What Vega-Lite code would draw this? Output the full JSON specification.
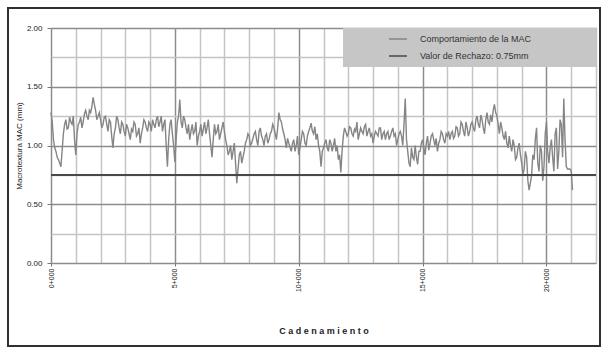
{
  "$schema": "https://vega.github.io/schema/vega-lite/v6.json",
  "width": 592,
  "height": 338,
  "autosize": {"type": "none"},
  "padding": {"left": 8, "top": 8, "right": 4, "bottom": 2},
  "background": "white",
  "config": {
    "font": "Liberation Sans",
    "view": {"stroke": "#303030", "strokeWidth": 2}
  },
  "data": {
    "values": [
      {"d": 0, "mac": 1.28}, {"d": 50, "mac": 1.2}, {"d": 100, "mac": 1.05}, {"d": 150, "mac": 0.98}, {"d": 200, "mac": 0.95}, {"d": 250, "mac": 0.9},
      {"d": 300, "mac": 0.88}, {"d": 350, "mac": 0.85}, {"d": 400, "mac": 0.82}, {"d": 450, "mac": 0.96}, {"d": 500, "mac": 1.1}, {"d": 550, "mac": 1.18},
      {"d": 600, "mac": 1.22}, {"d": 650, "mac": 1.14}, {"d": 700, "mac": 1.15}, {"d": 750, "mac": 1.24}, {"d": 800, "mac": 1.2}, {"d": 850, "mac": 1.18},
      {"d": 900, "mac": 1.25}, {"d": 950, "mac": 1.05},
      {"d": 1000, "mac": 0.92}, {"d": 1050, "mac": 1.1}, {"d": 1100, "mac": 1.18}, {"d": 1150, "mac": 1.2}, {"d": 1200, "mac": 1.24}, {"d": 1250, "mac": 1.15},
      {"d": 1300, "mac": 1.2}, {"d": 1350, "mac": 1.27}, {"d": 1400, "mac": 1.3}, {"d": 1450, "mac": 1.25}, {"d": 1500, "mac": 1.22}, {"d": 1550, "mac": 1.3},
      {"d": 1600, "mac": 1.28}, {"d": 1650, "mac": 1.33}, {"d": 1700, "mac": 1.41}, {"d": 1750, "mac": 1.35}, {"d": 1800, "mac": 1.3}, {"d": 1850, "mac": 1.22},
      {"d": 1900, "mac": 1.25}, {"d": 1950, "mac": 1.28},
      {"d": 2000, "mac": 1.22}, {"d": 2050, "mac": 1.15}, {"d": 2100, "mac": 1.18}, {"d": 2150, "mac": 1.24}, {"d": 2200, "mac": 1.25}, {"d": 2250, "mac": 1.18},
      {"d": 2300, "mac": 1.12}, {"d": 2350, "mac": 1.22}, {"d": 2400, "mac": 1.2}, {"d": 2450, "mac": 1.08}, {"d": 2500, "mac": 0.98}, {"d": 2550, "mac": 1.1},
      {"d": 2600, "mac": 1.15}, {"d": 2650, "mac": 1.25}, {"d": 2700, "mac": 1.22}, {"d": 2750, "mac": 1.15}, {"d": 2800, "mac": 1.1}, {"d": 2850, "mac": 1.2},
      {"d": 2900, "mac": 1.18}, {"d": 2950, "mac": 1.12},
      {"d": 3000, "mac": 1.08}, {"d": 3050, "mac": 1.18}, {"d": 3100, "mac": 1.15}, {"d": 3150, "mac": 1.1}, {"d": 3200, "mac": 1.05}, {"d": 3250, "mac": 1.14},
      {"d": 3300, "mac": 1.12}, {"d": 3350, "mac": 1.2}, {"d": 3400, "mac": 1.18}, {"d": 3450, "mac": 1.08}, {"d": 3500, "mac": 1.1}, {"d": 3550, "mac": 1.15},
      {"d": 3600, "mac": 1.02}, {"d": 3650, "mac": 1.1}, {"d": 3700, "mac": 1.15}, {"d": 3750, "mac": 1.22}, {"d": 3800, "mac": 1.2}, {"d": 3850, "mac": 1.15},
      {"d": 3900, "mac": 1.12}, {"d": 3950, "mac": 1.2},
      {"d": 4000, "mac": 1.18}, {"d": 4050, "mac": 1.12}, {"d": 4100, "mac": 1.22}, {"d": 4150, "mac": 1.18}, {"d": 4200, "mac": 1.15}, {"d": 4250, "mac": 1.22},
      {"d": 4300, "mac": 1.25}, {"d": 4350, "mac": 1.16}, {"d": 4400, "mac": 1.2}, {"d": 4450, "mac": 1.25}, {"d": 4500, "mac": 1.12}, {"d": 4550, "mac": 1.18},
      {"d": 4600, "mac": 1.22}, {"d": 4650, "mac": 1.0}, {"d": 4700, "mac": 0.82}, {"d": 4750, "mac": 1.05}, {"d": 4800, "mac": 1.18}, {"d": 4850, "mac": 1.22},
      {"d": 4900, "mac": 1.1}, {"d": 4950, "mac": 1.0},
      {"d": 5000, "mac": 0.86}, {"d": 5050, "mac": 1.05}, {"d": 5100, "mac": 1.2}, {"d": 5150, "mac": 1.25}, {"d": 5200, "mac": 1.39}, {"d": 5250, "mac": 1.2},
      {"d": 5300, "mac": 1.15}, {"d": 5350, "mac": 1.25}, {"d": 5400, "mac": 1.22}, {"d": 5450, "mac": 1.15}, {"d": 5500, "mac": 1.1}, {"d": 5550, "mac": 1.18},
      {"d": 5600, "mac": 1.05}, {"d": 5650, "mac": 1.12}, {"d": 5700, "mac": 1.18}, {"d": 5750, "mac": 1.1}, {"d": 5800, "mac": 1.12}, {"d": 5850, "mac": 1.2},
      {"d": 5900, "mac": 1.0}, {"d": 5950, "mac": 1.08},
      {"d": 6000, "mac": 1.12}, {"d": 6050, "mac": 1.18}, {"d": 6100, "mac": 1.08}, {"d": 6150, "mac": 1.14}, {"d": 6200, "mac": 1.2}, {"d": 6250, "mac": 1.1},
      {"d": 6300, "mac": 1.15}, {"d": 6350, "mac": 1.22}, {"d": 6400, "mac": 1.1}, {"d": 6450, "mac": 1.0}, {"d": 6500, "mac": 0.9}, {"d": 6550, "mac": 1.05},
      {"d": 6600, "mac": 1.18}, {"d": 6650, "mac": 1.1}, {"d": 6700, "mac": 1.12}, {"d": 6750, "mac": 1.18}, {"d": 6800, "mac": 1.05}, {"d": 6850, "mac": 1.1},
      {"d": 6900, "mac": 1.15}, {"d": 6950, "mac": 1.2},
      {"d": 7000, "mac": 1.12}, {"d": 7050, "mac": 1.05}, {"d": 7100, "mac": 1.0}, {"d": 7150, "mac": 0.92}, {"d": 7200, "mac": 0.95}, {"d": 7250, "mac": 1.0},
      {"d": 7300, "mac": 0.88}, {"d": 7350, "mac": 0.95}, {"d": 7400, "mac": 1.02}, {"d": 7450, "mac": 0.85}, {"d": 7500, "mac": 0.68}, {"d": 7550, "mac": 0.8},
      {"d": 7600, "mac": 0.92}, {"d": 7650, "mac": 0.95}, {"d": 7700, "mac": 0.85}, {"d": 7750, "mac": 0.9}, {"d": 7800, "mac": 0.95}, {"d": 7850, "mac": 1.02},
      {"d": 7900, "mac": 1.05}, {"d": 7950, "mac": 1.1},
      {"d": 8000, "mac": 1.08}, {"d": 8050, "mac": 1.0}, {"d": 8100, "mac": 1.02}, {"d": 8150, "mac": 1.06}, {"d": 8200, "mac": 1.1}, {"d": 8250, "mac": 1.12},
      {"d": 8300, "mac": 1.05}, {"d": 8350, "mac": 1.0}, {"d": 8400, "mac": 1.12}, {"d": 8450, "mac": 1.15}, {"d": 8500, "mac": 1.08}, {"d": 8550, "mac": 1.05},
      {"d": 8600, "mac": 1.0}, {"d": 8650, "mac": 1.08}, {"d": 8700, "mac": 1.1}, {"d": 8750, "mac": 1.02}, {"d": 8800, "mac": 1.05}, {"d": 8850, "mac": 1.1},
      {"d": 8900, "mac": 1.12}, {"d": 8950, "mac": 1.18},
      {"d": 9000, "mac": 1.15}, {"d": 9050, "mac": 1.1}, {"d": 9100, "mac": 1.05}, {"d": 9150, "mac": 1.15}, {"d": 9200, "mac": 1.28}, {"d": 9250, "mac": 1.22},
      {"d": 9300, "mac": 1.2}, {"d": 9350, "mac": 1.14}, {"d": 9400, "mac": 1.1}, {"d": 9450, "mac": 1.05}, {"d": 9500, "mac": 0.98}, {"d": 9550, "mac": 1.06},
      {"d": 9600, "mac": 1.02}, {"d": 9650, "mac": 0.98}, {"d": 9700, "mac": 0.95}, {"d": 9750, "mac": 1.02}, {"d": 9800, "mac": 1.05}, {"d": 9850, "mac": 0.95},
      {"d": 9900, "mac": 1.0}, {"d": 9950, "mac": 1.08},
      {"d": 10000, "mac": 0.92}, {"d": 10050, "mac": 0.98}, {"d": 10100, "mac": 1.05}, {"d": 10150, "mac": 1.12}, {"d": 10200, "mac": 1.1}, {"d": 10250, "mac": 1.02},
      {"d": 10300, "mac": 1.0}, {"d": 10350, "mac": 1.08}, {"d": 10400, "mac": 1.12}, {"d": 10450, "mac": 1.15}, {"d": 10500, "mac": 1.19}, {"d": 10550, "mac": 1.12},
      {"d": 10600, "mac": 1.1}, {"d": 10650, "mac": 1.16}, {"d": 10700, "mac": 1.05}, {"d": 10750, "mac": 1.1}, {"d": 10800, "mac": 1.0}, {"d": 10850, "mac": 0.95},
      {"d": 10900, "mac": 0.82}, {"d": 10950, "mac": 0.95},
      {"d": 11000, "mac": 0.98}, {"d": 11050, "mac": 1.02}, {"d": 11100, "mac": 1.05}, {"d": 11150, "mac": 0.98}, {"d": 11200, "mac": 0.95}, {"d": 11250, "mac": 1.05},
      {"d": 11300, "mac": 1.02}, {"d": 11350, "mac": 0.95}, {"d": 11400, "mac": 1.0}, {"d": 11450, "mac": 1.06}, {"d": 11500, "mac": 0.95}, {"d": 11550, "mac": 1.0},
      {"d": 11600, "mac": 0.88}, {"d": 11650, "mac": 0.92}, {"d": 11700, "mac": 0.77}, {"d": 11750, "mac": 0.95}, {"d": 11800, "mac": 1.08}, {"d": 11850, "mac": 1.15},
      {"d": 11900, "mac": 1.12}, {"d": 11950, "mac": 1.08},
      {"d": 12000, "mac": 1.1}, {"d": 12050, "mac": 1.16}, {"d": 12100, "mac": 1.15}, {"d": 12150, "mac": 1.1}, {"d": 12200, "mac": 1.08}, {"d": 12250, "mac": 1.14},
      {"d": 12300, "mac": 1.12}, {"d": 12350, "mac": 1.2}, {"d": 12400, "mac": 1.05}, {"d": 12450, "mac": 1.1}, {"d": 12500, "mac": 1.15}, {"d": 12550, "mac": 1.12},
      {"d": 12600, "mac": 1.1}, {"d": 12650, "mac": 1.16}, {"d": 12700, "mac": 1.18}, {"d": 12750, "mac": 1.08}, {"d": 12800, "mac": 1.12}, {"d": 12850, "mac": 1.15},
      {"d": 12900, "mac": 1.08}, {"d": 12950, "mac": 1.1},
      {"d": 13000, "mac": 1.02}, {"d": 13050, "mac": 1.08}, {"d": 13100, "mac": 1.12}, {"d": 13150, "mac": 1.1}, {"d": 13200, "mac": 1.08}, {"d": 13250, "mac": 1.15},
      {"d": 13300, "mac": 1.15}, {"d": 13350, "mac": 1.05}, {"d": 13400, "mac": 1.1}, {"d": 13450, "mac": 1.12}, {"d": 13500, "mac": 1.05}, {"d": 13550, "mac": 1.1},
      {"d": 13600, "mac": 1.12}, {"d": 13650, "mac": 1.05}, {"d": 13700, "mac": 1.08}, {"d": 13750, "mac": 1.12}, {"d": 13800, "mac": 1.15}, {"d": 13850, "mac": 1.08},
      {"d": 13900, "mac": 1.1}, {"d": 13950, "mac": 1.0},
      {"d": 14000, "mac": 1.05}, {"d": 14050, "mac": 1.1}, {"d": 14100, "mac": 1.12}, {"d": 14150, "mac": 1.08}, {"d": 14200, "mac": 1.0}, {"d": 14250, "mac": 1.18},
      {"d": 14300, "mac": 1.4}, {"d": 14350, "mac": 1.05}, {"d": 14400, "mac": 0.95}, {"d": 14450, "mac": 0.85}, {"d": 14500, "mac": 0.82}, {"d": 14550, "mac": 0.98},
      {"d": 14600, "mac": 0.9}, {"d": 14650, "mac": 0.88}, {"d": 14700, "mac": 1.0}, {"d": 14750, "mac": 0.9}, {"d": 14800, "mac": 0.84}, {"d": 14850, "mac": 0.95},
      {"d": 14900, "mac": 0.95}, {"d": 14950, "mac": 1.02},
      {"d": 15000, "mac": 1.05}, {"d": 15050, "mac": 0.98}, {"d": 15100, "mac": 0.92}, {"d": 15150, "mac": 1.02}, {"d": 15200, "mac": 1.08}, {"d": 15250, "mac": 0.96},
      {"d": 15300, "mac": 1.02}, {"d": 15350, "mac": 1.08}, {"d": 15400, "mac": 1.1}, {"d": 15450, "mac": 1.05}, {"d": 15500, "mac": 1.0}, {"d": 15550, "mac": 1.06},
      {"d": 15600, "mac": 0.95}, {"d": 15650, "mac": 1.02}, {"d": 15700, "mac": 1.05}, {"d": 15750, "mac": 1.12}, {"d": 15800, "mac": 1.1}, {"d": 15850, "mac": 1.05},
      {"d": 15900, "mac": 1.02}, {"d": 15950, "mac": 1.1},
      {"d": 16000, "mac": 1.08}, {"d": 16050, "mac": 1.12}, {"d": 16100, "mac": 1.05}, {"d": 16150, "mac": 1.1}, {"d": 16200, "mac": 1.12}, {"d": 16250, "mac": 1.06},
      {"d": 16300, "mac": 1.08}, {"d": 16350, "mac": 1.16}, {"d": 16400, "mac": 1.15}, {"d": 16450, "mac": 1.08}, {"d": 16500, "mac": 1.1}, {"d": 16550, "mac": 1.2},
      {"d": 16600, "mac": 1.18}, {"d": 16650, "mac": 1.12}, {"d": 16700, "mac": 1.08}, {"d": 16750, "mac": 1.2}, {"d": 16800, "mac": 1.15}, {"d": 16850, "mac": 1.08},
      {"d": 16900, "mac": 1.12}, {"d": 16950, "mac": 1.18},
      {"d": 17000, "mac": 1.2}, {"d": 17050, "mac": 1.15}, {"d": 17100, "mac": 1.12}, {"d": 17150, "mac": 1.22}, {"d": 17200, "mac": 1.25}, {"d": 17250, "mac": 1.18},
      {"d": 17300, "mac": 1.15}, {"d": 17350, "mac": 1.26}, {"d": 17400, "mac": 1.22}, {"d": 17450, "mac": 1.15}, {"d": 17500, "mac": 1.1}, {"d": 17550, "mac": 1.22},
      {"d": 17600, "mac": 1.28}, {"d": 17650, "mac": 1.2}, {"d": 17700, "mac": 1.18}, {"d": 17750, "mac": 1.26}, {"d": 17800, "mac": 1.2}, {"d": 17850, "mac": 1.3},
      {"d": 17900, "mac": 1.35}, {"d": 17950, "mac": 1.28},
      {"d": 18000, "mac": 1.25}, {"d": 18050, "mac": 1.18}, {"d": 18100, "mac": 1.1}, {"d": 18150, "mac": 1.2}, {"d": 18200, "mac": 1.15}, {"d": 18250, "mac": 1.08},
      {"d": 18300, "mac": 1.05}, {"d": 18350, "mac": 1.12}, {"d": 18400, "mac": 1.02}, {"d": 18450, "mac": 0.98}, {"d": 18500, "mac": 1.08}, {"d": 18550, "mac": 1.0},
      {"d": 18600, "mac": 0.95}, {"d": 18650, "mac": 1.05}, {"d": 18700, "mac": 1.0}, {"d": 18750, "mac": 0.88}, {"d": 18800, "mac": 0.9}, {"d": 18850, "mac": 0.98},
      {"d": 18900, "mac": 1.02}, {"d": 18950, "mac": 0.92},
      {"d": 19000, "mac": 0.85}, {"d": 19050, "mac": 0.75}, {"d": 19100, "mac": 0.8}, {"d": 19150, "mac": 0.95}, {"d": 19200, "mac": 0.9}, {"d": 19250, "mac": 0.7},
      {"d": 19300, "mac": 0.62}, {"d": 19350, "mac": 0.68}, {"d": 19400, "mac": 0.75}, {"d": 19450, "mac": 0.92}, {"d": 19500, "mac": 0.88}, {"d": 19550, "mac": 1.05},
      {"d": 19600, "mac": 1.15}, {"d": 19650, "mac": 0.85}, {"d": 19700, "mac": 0.78}, {"d": 19750, "mac": 1.0}, {"d": 19800, "mac": 0.95}, {"d": 19850, "mac": 0.7},
      {"d": 19900, "mac": 0.82}, {"d": 19950, "mac": 1.1},
      {"d": 20000, "mac": 1.2}, {"d": 20050, "mac": 0.95}, {"d": 20100, "mac": 0.85}, {"d": 20150, "mac": 0.98}, {"d": 20200, "mac": 1.05}, {"d": 20250, "mac": 0.9},
      {"d": 20300, "mac": 0.78}, {"d": 20350, "mac": 1.1}, {"d": 20400, "mac": 1.15}, {"d": 20450, "mac": 0.8}, {"d": 20500, "mac": 0.95}, {"d": 20550, "mac": 1.22},
      {"d": 20600, "mac": 1.18}, {"d": 20650, "mac": 0.9}, {"d": 20700, "mac": 1.4}, {"d": 20750, "mac": 1.05}, {"d": 20800, "mac": 0.82}, {"d": 20850, "mac": 0.8},
      {"d": 20900, "mac": 0.8}, {"d": 20950, "mac": 0.8},
      {"d": 21000, "mac": 0.78}, {"d": 21050, "mac": 0.62}
    ]
  },
  "resolve": {"axis": {"x": "independent"}},
  "layer": [
    {
      "mark": {"type": "line", "strokeWidth": 1.4},
      "encoding": {
        "x": {
          "field": "d",
          "type": "quantitative",
          "scale": {"domain": [0, 22000], "range": [43, 588], "nice": false, "zero": false},
          "axis": {
            "values": [0, 1000, 2000, 3000, 4000, 5000, 6000, 7000, 8000, 9000, 10000, 11000, 12000, 13000, 14000, 15000, 16000, 17000, 18000, 19000, 20000, 21000, 22000],
            "tickCount": 40,
            "grid": false,
            "labelExpr": "datum.value % 5000 == 0 ? floor(datum.value / 1000) + '+000' : ''",
            "labelAngle": -90,
            "labelFlush": false,
            "labelOverlap": false,
            "labelFontSize": 7,
            "labelColor": "#222",
            "labelPadding": 2,
            "offset": -83,
            "domain": false,
            "tickSize": 3,
            "tickColor": "#777",
            "tickOpacity": {"condition": {"test": "datum.value % 5000 == 0", "value": 1}, "value": 0},
            "title": "C a d e n a m i e n t o",
            "titleFontSize": 9,
            "titleFontWeight": "bold",
            "titleColor": "#222",
            "titlePadding": 35
          }
        },
        "y": {
          "field": "mac",
          "type": "quantitative",
          "scale": {"domain": [0, 2], "range": [255, 20], "nice": false, "zero": false},
          "axis": {
            "values": [0, 0.25, 0.5, 0.75, 1, 1.25, 1.5, 1.75, 2],
            "tickCount": 20,
            "grid": true,
            "labelExpr": "datum.value % 0.5 == 0 ? format(datum.value, '.2f') : ''",
            "labelFlush": false,
            "labelOverlap": false,
            "labelFontSize": 8,
            "labelColor": "#222",
            "labelPadding": 5,
            "offset": -43,
            "domain": false,
            "gridColor": {"condition": {"test": "datum.value % 0.5 == 0", "value": "#8c8c8c"}, "value": "#c4c4c4"},
            "gridWidth": 1.5,
            "tickSize": 4,
            "tickColor": "#777",
            "tickOpacity": {"condition": {"test": "datum.value % 0.5 == 0", "value": 1}, "value": 0},
            "title": "Macrotextura MAC (mm)",
            "titleFontSize": 8,
            "titleFontWeight": "normal",
            "titleColor": "#222",
            "titlePadding": 3
          }
        },
        "color": {
          "datum": "Comportamiento de la MAC",
          "scale": {
            "domain": ["Comportamiento de la MAC", "Valor de Rechazo: 0.75mm"],
            "range": ["#858585", "#484848"]
          },
          "legend": {
            "title": null,
            "orient": "none",
            "legendX": 335,
            "legendY": 20,
            "padding": 1,
            "symbolType": "stroke",
            "symbolSize": 324,
            "symbolStrokeWidth": 1.5,
            "symbolOffset": 44,
            "labelOffset": 12,
            "rowPadding": 2,
            "labelFontSize": 9,
            "labelColor": "#333",
            "labelLimit": 400
          }
        }
      }
    },
    {
      "mark": {"type": "rule", "strokeWidth": 2},
      "encoding": {
        "x": {
          "datum": 0,
          "type": "quantitative",
          "axis": {
            "orient": "top",
            "values": [0, 1000, 2000, 3000, 4000, 5000, 6000, 7000, 8000, 9000, 10000, 11000, 12000, 13000, 14000, 15000, 16000, 17000, 18000, 19000, 20000, 21000, 22000],
            "tickCount": 40,
            "grid": true,
            "gridColor": {"condition": {"test": "datum.value % 5000 == 0", "value": "#8c8c8c"}, "value": "#c4c4c4"},
            "gridWidth": 1.5,
            "labels": false,
            "ticks": false,
            "domain": false,
            "title": null
          }
        },
        "x2": {"datum": 22000},
        "y": {"datum": 0.75},
        "color": {"datum": "Valor de Rechazo: 0.75mm"}
      }
    },
    {
      "mark": {"type": "rect", "fill": "#c6c6c6"},
      "encoding": {
        "x": {"datum": 11790, "type": "quantitative", "axis": null},
        "x2": {"datum": 22000},
        "y": {"datum": 2.0, "type": "quantitative"},
        "y2": {"datum": 1.668}
      }
    }
  ]
}
